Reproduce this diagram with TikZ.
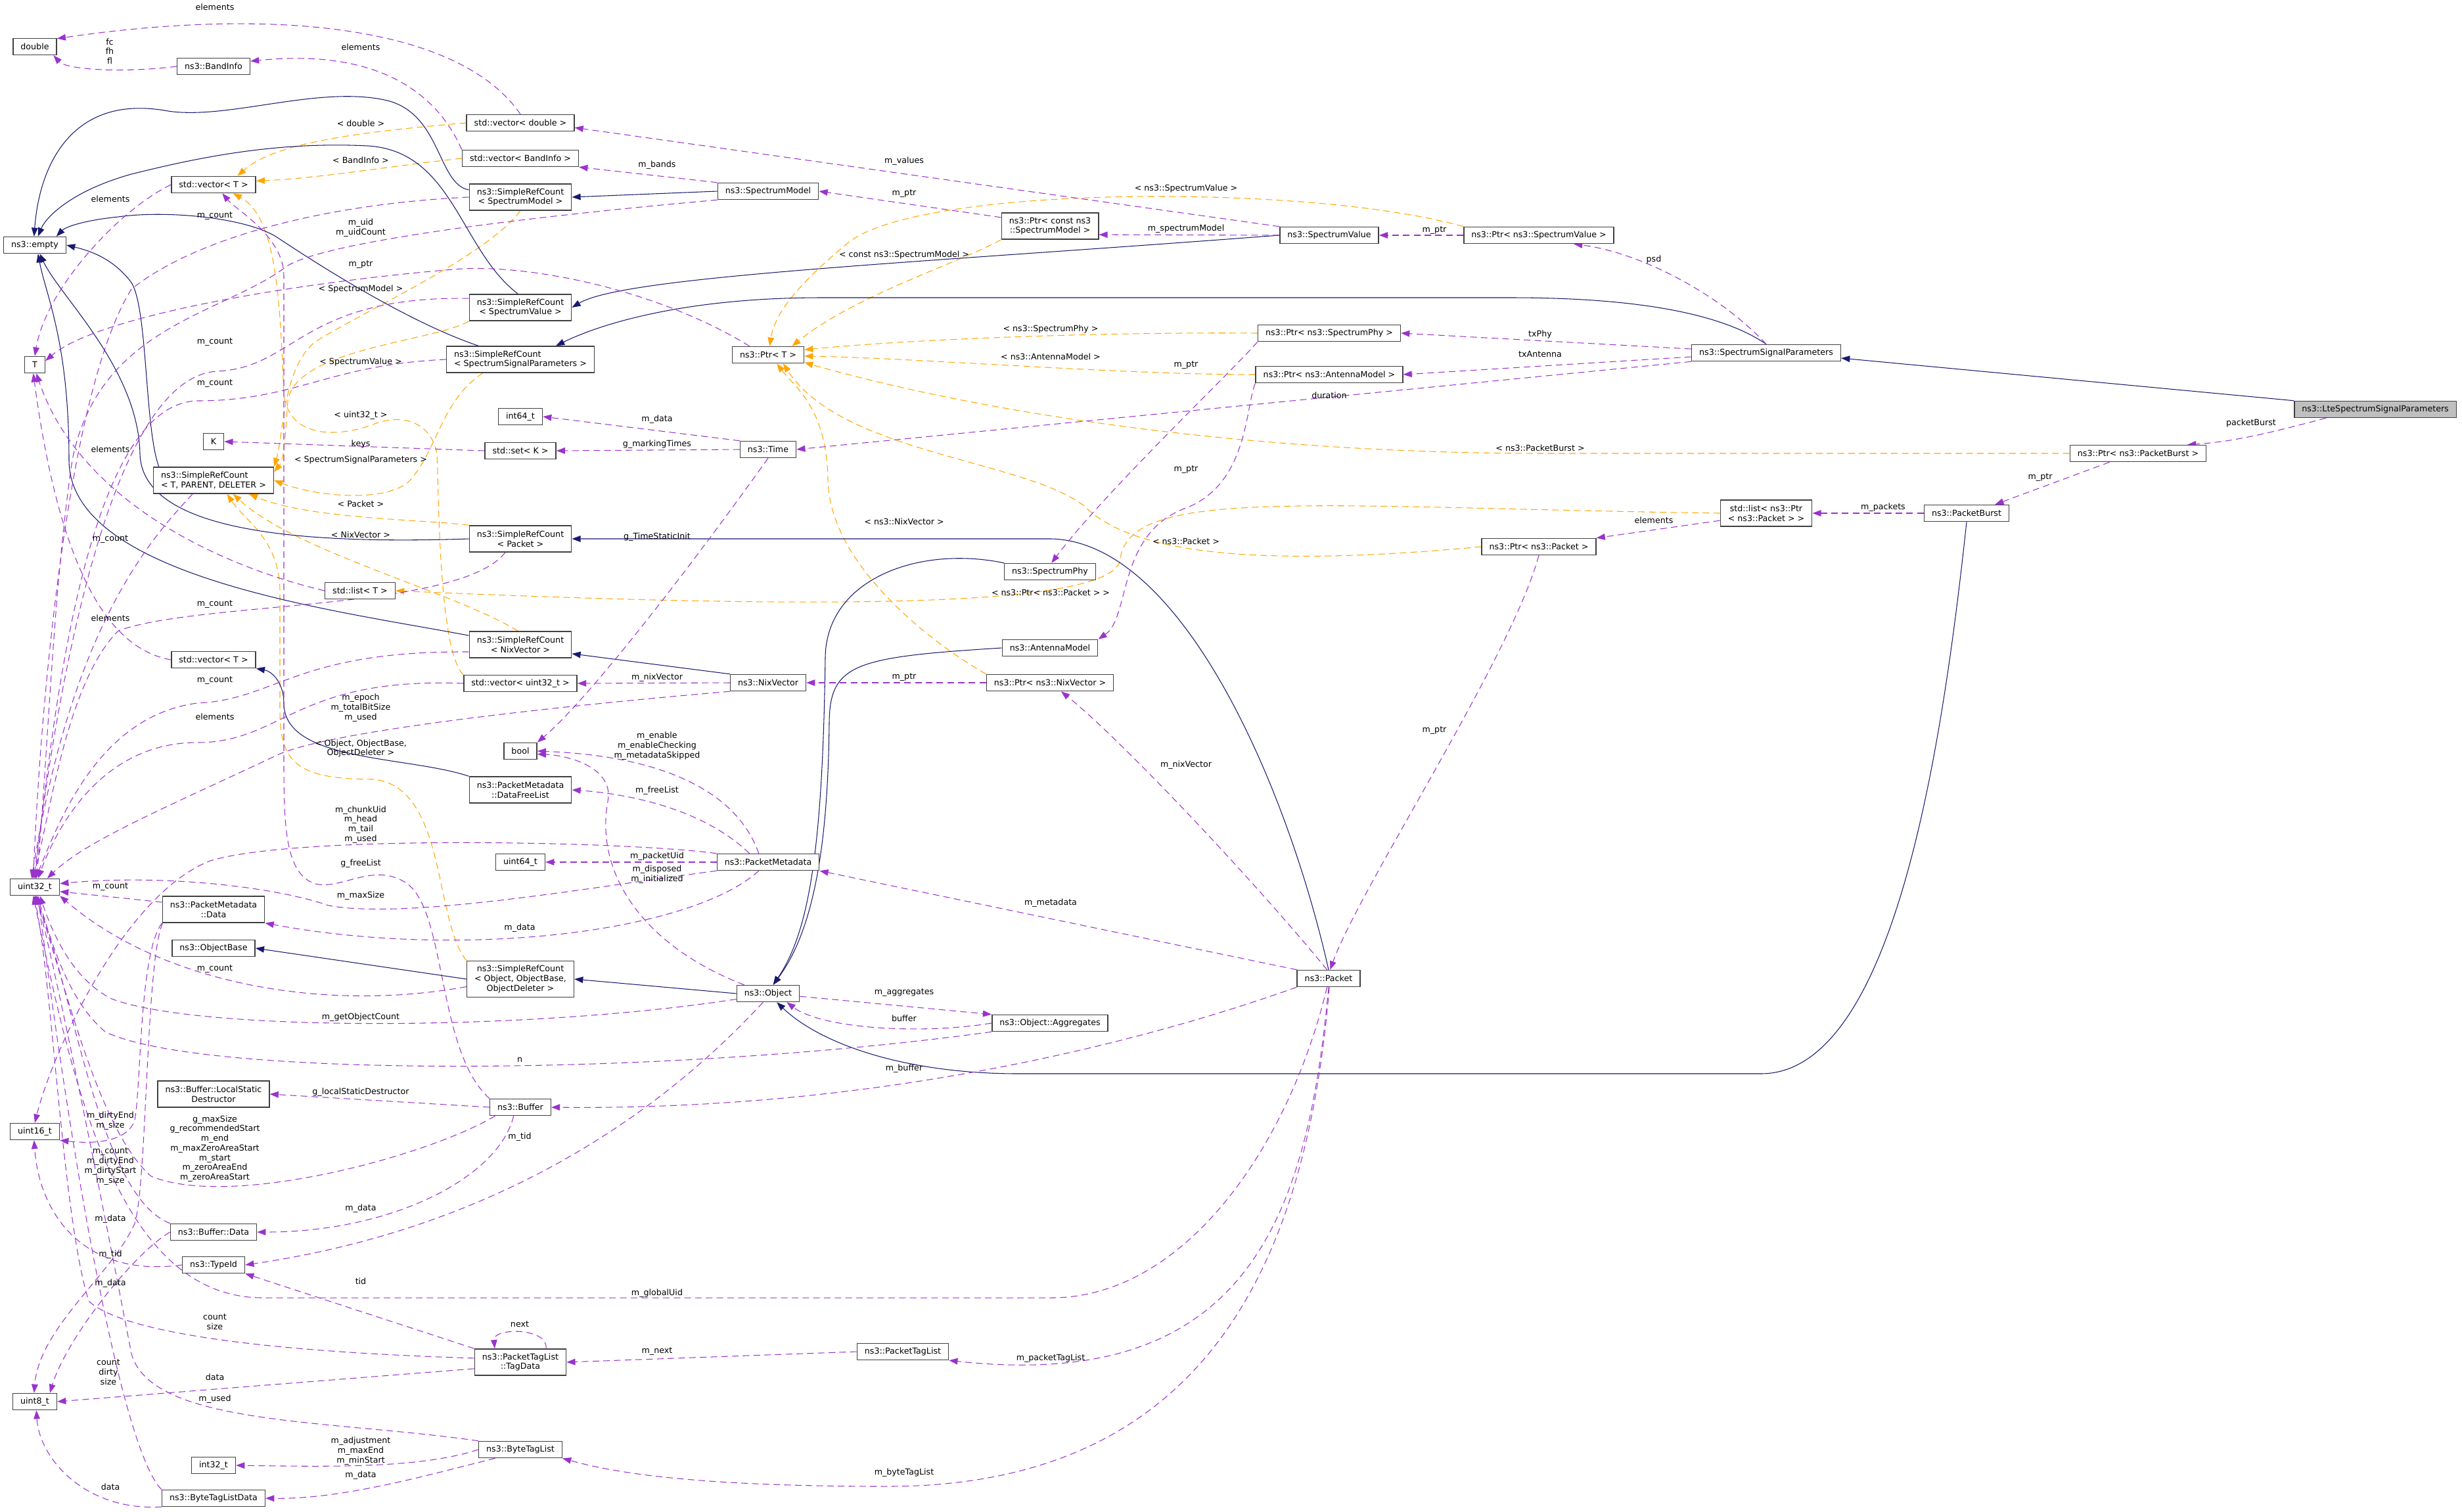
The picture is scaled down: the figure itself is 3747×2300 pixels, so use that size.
\documentclass[tikz,border=0pt]{standalone}
\usepackage{fontspec}
\setmainfont{DejaVu Sans}
\usetikzlibrary{arrows.meta,backgrounds}
\definecolor{navyedge}{HTML}{191970}
\definecolor{memberedge}{HTML}{9A32CD}
\definecolor{templedge}{HTML}{FFA500}
\definecolor{focusfill}{HTML}{BFBFBF}
\tikzset{
  cls/.style={draw=black!75, line width=0.85pt, fill=white, font=\fontsize{7.2}{8.4}\selectfont, inner xsep=0.23cm, inner ysep=0pt, minimum height=0.5cm},
  cls two/.style={cls, minimum height=0.8cm, align=center},
  cls three/.style={cls, minimum height=1.1cm, align=center},
  lbl/.style={font=\fontsize{7.2}{8.4}\selectfont, align=center, inner sep=0pt},
  inherit/.style={draw=navyedge, line width=0.6pt, -{Triangle[length=7.5pt,width=5.5pt]}},
  member/.style={draw=memberedge, line width=0.6pt, dash pattern=on 5.7pt off 3.6pt, -{Triangle[length=7.5pt,width=5.5pt]}},
  templ/.style={draw=templedge, line width=0.6pt, dash pattern=on 5.7pt off 3.6pt, -{Triangle[length=7.5pt,width=5.5pt]}}
}
\begin{document}
\begin{tikzpicture}[x=0.02cm, y=-0.02cm]
    \useasboundingbox (0,0) rectangle (3747,2300);

    % クラスのノード
    \node[cls] (double) at (53,71) {double};
    \node[cls] (bandInfo) at (325,101) {ns3::BandInfo};
    \node[cls] (vecDouble) at (792,187) {std::vector< double >};
    \node[cls] (vecBand) at (792,241) {std::vector< BandInfo >};
    \node[cls] (vecT) at (325,281) {std::vector< T >};
    \node[cls two] (srcModel) at (792,300) {ns3::SimpleRefCount\\< SpectrumModel >};
    \node[cls] (specModel) at (1169,291) {ns3::SpectrumModel};
    \node[cls] (empty) at (53,373) {ns3::empty};
    \node[cls two] (srcValue) at (792,468) {ns3::SimpleRefCount\\< SpectrumValue >};
    \node[cls] (T) at (53,555) {T};
    \node[cls two, align=left] (srcSig) at (792,547) {ns3::SimpleRefCount\\< SpectrumSignalParameters >};
    \node[cls] (ptrT) at (1169,540) {ns3::Ptr< T >};
    \node[cls two] (ptrModel) at (1598,344) {ns3::Ptr< const ns3\\::SpectrumModel >};
    \node[cls] (specValue) at (2023,358) {ns3::SpectrumValue};
    \node[cls] (ptrValue) at (2342,358) {ns3::Ptr< ns3::SpectrumValue >};
    \node[cls] (sigParams) at (2688,537) {ns3::SpectrumSignalParameters};
    \node[cls, fill=focusfill] (lte) at (3615,623) {ns3::LteSpectrumSignalParameters};
    \node[cls] (ptrPhy) at (2023,507) {ns3::Ptr< ns3::SpectrumPhy >};
    \node[cls] (ptrAnt) at (2023,570) {ns3::Ptr< ns3::AntennaModel >};
    \node[cls] (int64) at (792,634) {int64\_t};
    \node[cls] (K) at (325,672) {K};
    \node[cls] (setK) at (792,686) {std::set< K >};
    \node[cls] (time) at (1169,684) {ns3::Time};
    \node[cls two, align=left] (srcTPD) at (325,731) {ns3::SimpleRefCount\\< T, PARENT, DELETER >};
    \node[cls] (ptrBurst) at (3254,690) {ns3::Ptr< ns3::PacketBurst >};
    \node[cls two] (srcPacket) at (792,820) {ns3::SimpleRefCount\\< Packet >};
    \node[cls two] (listPtr) at (2688,781) {std::list< ns3::Ptr\\< ns3::Packet > >};
    \node[cls] (burst) at (2993,781) {ns3::PacketBurst};
    \node[cls] (ptrPacket) at (2342,832) {ns3::Ptr< ns3::Packet >};
    \node[cls] (specPhy) at (1598,870) {ns3::SpectrumPhy};
    \node[cls] (listT) at (548,899) {std::list< T >};
    \node[cls] (antenna) at (1598,986) {ns3::AntennaModel};
    \node[cls two] (srcNix) at (792,981) {ns3::SimpleRefCount\\< NixVector >};
    \node[cls] (vecT2) at (325,1004) {std::vector< T >};
    \node[cls] (vecUint) at (792,1040) {std::vector< uint32\_t >};
    \node[cls] (nix) at (1169,1039) {ns3::NixVector};
    \node[cls] (ptrNix) at (1598,1039) {ns3::Ptr< ns3::NixVector >};
    \node[cls] (bool) at (792,1143) {bool};
    \node[cls two] (freeList) at (792,1202) {ns3::PacketMetadata\\::DataFreeList};
    \node[cls] (uint64) at (792,1312) {uint64\_t};
    \node[cls] (uint32) at (53,1350) {uint32\_t};
    \node[cls] (metadata) at (1169,1312) {ns3::PacketMetadata};
    \node[cls two] (mdData) at (325,1384) {ns3::PacketMetadata\\::Data};
    \node[cls] (objBase) at (325,1443) {ns3::ObjectBase};
    \node[cls three] (srcObj) at (792,1490) {ns3::SimpleRefCount\\< Object, ObjectBase,\\ObjectDeleter >};
    \node[cls] (object) at (1169,1512) {ns3::Object};
    \node[cls] (aggr) at (1598,1557) {ns3::Object::Aggregates};
    \node[cls] (packet) at (2022,1489) {ns3::Packet};
    \node[cls two] (lsd) at (325,1665) {ns3::Buffer::LocalStatic\\Destructor};
    \node[cls] (buffer) at (792,1685) {ns3::Buffer};
    \node[cls] (uint16) at (53,1722) {uint16\_t};
    \node[cls] (bufData) at (325,1875) {ns3::Buffer::Data};
    \node[cls] (typeId) at (325,1925) {ns3::TypeId};
    \node[cls] (ptagList) at (1374,2057) {ns3::PacketTagList};
    \node[cls two] (tagData) at (792,2073) {ns3::PacketTagList\\::TagData};
    \node[cls] (uint8) at (53,2133) {uint8\_t};
    \node[cls] (int32) at (325,2230) {int32\_t};
    \node[cls] (btagList) at (792,2206) {ns3::ByteTagList};
    \node[cls] (btlData) at (325,2280) {ns3::ByteTagListData};

    \begin{scope}[on background layer]
    % テンプレート
    \draw[templ] (vecDouble.west) .. controls (560,200) and (420,215) .. (vecT.20);
    \draw[templ] (vecBand.west) .. controls (600,252) and (480,272) .. (vecT.5);
    \draw[templ] (vecUint.north west) .. controls (668,990) and (668,760) .. (665,690) .. controls (655,640) and (610,630) .. (570,645) .. controls (520,665) and (440,670) .. (432,600) .. controls (426,450) and (420,330) .. (vecT.-24);
    \draw[templ] (srcModel.south) .. controls (740,390) and (560,470) .. (480,520) .. controls (430,560) and (432,660) .. (srcTPD.north east);
    \draw[templ] (srcValue.south west) .. controls (660,520) and (450,530) .. (438,610) .. controls (434,670) and (432,700) .. (srcTPD.8);
    \draw[templ] (srcSig.-160) .. controls (670,610) and (665,690) .. (620,735) .. controls (580,765) and (480,755) .. (srcTPD.east);
    \draw[templ] (srcPacket.north west) .. controls (640,790) and (470,790) .. (srcTPD.-21);
    \draw[templ] (srcNix.100) .. controls (690,900) and (450,840) .. (srcTPD.-35);
    \draw[templ] (srcObj.north west) .. controls (660,1400) and (680,1200) .. (570,1186) .. controls (450,1186) and (426,1160) .. (426,1080) -- (426,900) .. controls (426,820) and (370,790) .. (srcTPD.-45);
    \draw[templ] (ptrValue.north west) .. controls (2000,280) and (1400,280) .. (1290,370) .. controls (1230,420) and (1180,470) .. (ptrT.80);
    \draw[templ] (ptrModel.south west) .. controls (1460,400) and (1300,450) .. (ptrT.20);
    \draw[templ] (ptrPhy.west) .. controls (1700,505) and (1400,515) .. (ptrT.8);
    \draw[templ] (ptrAnt.west) .. controls (1700,570) and (1400,545) .. (ptrT.-2);
    \draw[templ] (ptrBurst.west) -- (2350,690) .. controls (1900,690) and (1500,630) .. (ptrT.-12);
    \draw[templ] (ptrPacket.west) .. controls (1900,865) and (1720,840) .. (1650,770) .. controls (1560,700) and (1280,690) .. (ptrT.-30);
    \draw[templ] (ptrNix.north west) .. controls (1420,980) and (1262,860) .. (1260,730) .. controls (1258,620) and (1210,590) .. (ptrT.-45);
    \draw[templ] (listPtr.west) .. controls (2000,772) and (1720,740) .. (1705,850) .. controls (1700,930) and (1200,925) .. (listT.east);

    % 継承
    \draw[inherit] (srcModel.172) .. controls (665,280) and (672,170) .. (585,152) .. controls (480,130) and (340,185) .. (250,168) .. controls (110,145) and (60,250) .. (empty.95);
    \draw[inherit] (srcValue.100) .. controls (700,380) and (690,230) .. (560,222) .. controls (420,215) and (300,240) .. (200,265) .. controls (110,290) and (70,330) .. (empty.70);
    \draw[inherit] (srcSig.162) .. controls (620,490) and (480,400) .. (420,360) .. controls (370,330) and (250,320) .. (180,330) .. controls (130,335) and (100,345) .. (empty.22);
    \draw[inherit] (srcTPD.166) .. controls (220,650) and (225,470) .. (200,430) .. controls (170,390) and (130,380) .. (empty.east);
    \draw[inherit] (srcPacket.west) .. controls (420,830) and (215,800) .. (213,690) .. controls (210,560) and (90,450) .. (empty.-60);
    \draw[inherit] (srcNix.170) .. controls (520,930) and (105,880) .. (105,700) .. controls (105,520) and (70,450) .. (empty.-70);
    \draw[inherit] (specModel.west) -- (srcModel.east);
    \draw[inherit] (specValue.west) .. controls (1400,400) and (950,420) .. (srcValue.east);
    \draw[inherit] (sigParams.north) .. controls (2610,470) and (2460,453) .. (2300,453) -- (1250,453) .. controls (1050,453) and (920,490) .. (srcSig.21);
    \draw[inherit] (lte.north west) -- (sigParams.-4);
    \draw[inherit] (packet.north) .. controls (1960,1200) and (1800,825) .. (1600,820) -- (srcPacket.east);
    \draw[inherit] (nix.north west) -- (srcNix.-10);
    \draw[inherit] (freeList.north west) .. controls (620,1150) and (432,1160) .. (432,1070) .. controls (432,1040) and (415,1022) .. (vecT2.south east);
    \draw[inherit] (srcObj.west) -- (objBase.east);
    \draw[inherit] (object.west) -- (srcObj.east);
    \draw[inherit] (specPhy.north west) .. controls (1400,830) and (1258,880) .. (1256,1000) .. controls (1252,1300) and (1230,1420) .. (object.60);
    \draw[inherit] (antenna.west) .. controls (1300,1000) and (1263,1010) .. (1262,1100) .. controls (1260,1300) and (1235,1420) .. (object.60);
    \draw[inherit] (burst.south) .. controls (2955,1150) and (2880,1634) .. (2680,1634) -- (1550,1634) .. controls (1380,1634) and (1250,1590) .. (object.-45);

    % メンバ変数
    \draw[member] (vecDouble.north) .. controls (700,40) and (420,10) .. (double.20);
    \draw[member] (bandInfo.west) .. controls (180,112) and (100,105) .. (double.-25);
    \draw[member] (vecBand.north west) .. controls (660,130) and (560,75) .. (bandInfo.8);
    \draw[member] (vecT.west) .. controls (180,320) and (70,440) .. (T.north);
    \draw[member] (ptrT.155) .. controls (1000,440) and (800,400) .. (690,410) .. controls (450,430) and (150,480) .. (T.20);
    \draw[member] (listT.west) .. controls (330,860) and (120,760) .. (T.-80);
    \draw[member] (vecT2.west) .. controls (180,990) and (95,900) .. (T.-100);
    \draw[member] (setK.west) -- (K.east);
    \draw[member] (time.north west) -- (int64.east);
    \draw[member] (time.west) -- (setK.east);
    \draw[member] (time.south) .. controls (1060,850) and (900,1060) .. (bool.north east);
    \draw[member] (specModel.north west) -- (vecBand.south east);
    \draw[member] (specModel.south west) .. controls (800,330) and (470,370) .. (430,410) .. controls (330,480) and (150,500) .. (110,700) .. controls (80,900) and (70,1200) .. (uint32.80);
    \draw[member] (specValue.north west) -- (vecDouble.-5);
    \draw[member] (ptrModel.170) -- (specModel.east);
    \draw[member] (specValue.west) -- (ptrModel.-10);
    \draw[member] (ptrValue.west) -- (specValue.east);
    \draw[member] (sigParams.north) .. controls (2620,450) and (2500,385) .. (ptrValue.-14);
    \draw[member] (sigParams.177) -- (ptrPhy.east);
    \draw[member] (sigParams.183) -- (ptrAnt.east);
    \draw[member] (sigParams.south west) -- (time.east);
    \draw[member] (lte.-170) .. controls (3450,660) and (3400,672) .. (ptrBurst.10);
    \draw[member] (ptrBurst.-163) -- (burst.17);
    \draw[member] (burst.west) -- (listPtr.east);
    \draw[member] (listPtr.-171) -- (ptrPacket.north east);
    \draw[member] (ptrPhy.south west) .. controls (1880,560) and (1680,750) .. (specPhy.80);
    \draw[member] (ptrAnt.south west) .. controls (1895,620) and (1900,740) .. (1800,775) .. controls (1700,815) and (1720,940) .. (antenna.north east);
    \draw[member] (ptrPacket.south) .. controls (2300,1000) and (2070,1350) .. (packet.80);
    \draw[member] (nix.west) -- (vecUint.east);
    \draw[member] (nix.south west) .. controls (900,1070) and (500,1110) .. (420,1150) .. controls (250,1230) and (130,1280) .. (uint32.35);
    \draw[member] (ptrNix.west) -- (nix.east);
    \draw[member] (packet.100) .. controls (1900,1330) and (1700,1120) .. (ptrNix.-38);
    \draw[member] (packet.north west) -- (metadata.south east);
    \draw[member] (packet.south west) .. controls (1700,1600) and (1300,1690) .. (buffer.east);
    \draw[member] (packet.-100) .. controls (1960,1750) and (1800,1975) .. (1600,1975) -- (400,1975) .. controls (180,1975) and (110,1650) .. (uint32.-100);
    \draw[member] (packet.-90) .. controls (1990,1850) and (1900,2120) .. (ptagList.south east);
    \draw[member] (packet.-85) .. controls (1990,1900) and (1850,2262) .. (1350,2262) .. controls (1050,2262) and (930,2240) .. (btagList.south east);
    \draw[member] (ptagList.west) -- (tagData.east);
    \draw[member] (tagData.28) .. controls (835,2020) and (750,2020) .. (tagData.152);
    \draw[member] (tagData.north west) -- (typeId.south east);
    \draw[member] (tagData.175) .. controls (500,2060) and (200,2040) .. (135,1980) .. controls (95,1850) and (80,1500) .. (uint32.-95);
    \draw[member] (tagData.188) -- (uint8.east);
    \draw[member] (btagList.north west) .. controls (500,2160) and (230,2170) .. (200,2060) .. controls (150,1800) and (90,1500) .. (uint32.-80);
    \draw[member] (btagList.west) .. controls (640,2235) and (500,2232) .. (int32.east);
    \draw[member] (btagList.-161) .. controls (650,2245) and (520,2282) .. (btlData.east);
    \draw[member] (btlData.north west) .. controls (180,2200) and (100,1700) .. (uint32.-70);
    \draw[member] (btlData.south west) .. controls (130,2300) and (60,2220) .. (uint8.-80);
    \draw[member] (bufData.west) .. controls (200,1910) and (100,2040) .. (uint8.30);
    \draw[member] (mdData.-165) .. controls (222,1460) and (224,1800) .. (205,1862) .. controls (170,1940) and (60,2020) .. (uint8.95);
    \draw[member] (mdData.south west) .. controls (212,1450) and (215,1650) .. (205,1705) .. controls (195,1735) and (150,1742) .. (uint16.south east);
    \draw[member] (mdData.172) -- (uint32.-10);
    \draw[member] (metadata.north west) .. controls (950,1280) and (450,1270) .. (320,1310) .. controls (190,1360) and (80,1600) .. (uint16.north);
    \draw[member] (metadata.west) -- (uint64.east);
    \draw[member] (metadata.south west) .. controls (900,1350) and (620,1400) .. (500,1378) .. controls (420,1350) and (250,1330) .. (uint32.8);
    \draw[member] (metadata.155) .. controls (1080,1240) and (980,1210) .. (freeList.east);
    \draw[member] (metadata.137) .. controls (1120,1200) and (1000,1150) .. (bool.east);
    \draw[member] (metadata.-137) .. controls (1050,1420) and (700,1460) .. (mdData.south east);
    \draw[member] (object.160) .. controls (980,1440) and (905,1330) .. (925,1220) .. controls (935,1170) and (870,1150) .. (bool.-10);
    \draw[member] (object.-5) -- (aggr.north west);
    \draw[member] (aggr.west) .. controls (1400,1575) and (1250,1565) .. (object.-25);
    \draw[member] (aggr.south west) .. controls (1000,1640) and (300,1640) .. (160,1570) .. controls (100,1520) and (75,1420) .. (uint32.-75);
    \draw[member] (object.-170) .. controls (800,1570) and (300,1570) .. (170,1520) .. controls (110,1490) and (80,1420) .. (uint32.-60);
    \draw[member] (srcObj.-172) .. controls (500,1540) and (250,1500) .. (uint32.south east);
    \draw[member] (object.-120) .. controls (1000,1700) and (750,1870) .. (typeId.east);
    \draw[member] (buffer.west) -- (lsd.east);
    \draw[member] (buffer.-128) .. controls (760,1790) and (600,1875) .. (bufData.east);
    \draw[member] (buffer.-161) .. controls (650,1760) and (350,1840) .. (230,1790) .. controls (150,1720) and (100,1500) .. (uint32.-85);
    \draw[member] (buffer.north west) .. controls (665,1600) and (680,1390) .. (620,1345) .. controls (570,1310) and (520,1355) .. (480,1345) .. controls (432,1330) and (432,1250) .. (432,1150) -- (432,420) .. controls (432,360) and (360,320) .. (vecT.-45);
    \draw[member] (bufData.north west) .. controls (150,1820) and (110,1500) .. (uint32.-90);
    \draw[member] (typeId.west) .. controls (130,1945) and (60,1850) .. (uint16.-95);
    \draw[member] (vecUint.west) .. controls (450,1030) and (430,1130) .. (300,1130) .. controls (160,1130) and (90,1250) .. (uint32.70);
    \draw[member] (srcModel.west) .. controls (500,310) and (300,360) .. (200,440) .. controls (100,600) and (60,1100) .. (uint32.100);
    \draw[member] (srcValue.170) .. controls (460,450) and (450,560) .. (330,565) .. controls (160,575) and (80,1100) .. (uint32.95);
    \draw[member] (srcSig.west) .. controls (500,555) and (450,610) .. (300,610) .. controls (130,615) and (80,1100) .. (uint32.90);
    \draw[member] (srcTPD.-147) .. controls (230,820) and (110,950) .. (uint32.110);
    \draw[member] (srcPacket.-138) .. controls (700,930) and (300,915) .. (180,960) .. controls (100,1040) and (75,1250) .. (uint32.105);
    \draw[member] (srcNix.-172) .. controls (450,990) and (420,1065) .. (300,1070) .. controls (150,1090) and (90,1250) .. (uint32.85);
    \end{scope}

    % ラベル
    \node[lbl] (elements1_label) at (327,11) {elements};
    \node[lbl] (fcfhfl_label) at (167,78) {fc\\fh\\fl};
    \node[lbl] (elements2_label) at (549,72) {elements};
    \node[lbl] (tdouble_label) at (549,188) {< double >};
    \node[lbl] (tband_label) at (549,244) {< BandInfo >};
    \node[lbl] (elements3_label) at (168,303) {elements};
    \node[lbl] (count1_label) at (327,329) {m\_count};
    \node[lbl] (uid_label) at (549,347) {m\_uid\\m\_uidCount};
    \node[lbl] (ptr1_label) at (549,403) {m\_ptr};
    \node[lbl] (tmodel_label) at (549,440) {< SpectrumModel >};
    \node[lbl] (count2_label) at (327,521) {m\_count};
    \node[lbl] (tvalue_label) at (549,551) {< SpectrumValue >};
    \node[lbl] (count3_label) at (327,584) {m\_count};
    \node[lbl] (tuint_label) at (549,632) {< uint32\_t >};
    \node[lbl] (keys_label) at (549,676) {keys};
    \node[lbl] (elements4_label) at (168,684) {elements};
    \node[lbl] (tsig_label) at (549,700) {< SpectrumSignalParameters >};
    \node[lbl] (tpacket_label) at (549,767) {< Packet >};
    \node[lbl] (tnix_label) at (549,814) {< NixVector >};
    \node[lbl] (count4_label) at (168,821) {m\_count};
    \node[lbl] (count5_label) at (327,920) {m\_count};
    \node[lbl] (elements5_label) at (168,941) {elements};
    \node[lbl] (count6_label) at (327,1036) {m\_count};
    \node[lbl] (epoch_label) at (549,1077) {m\_epoch\\m\_totalBitSize\\m\_used};
    \node[lbl] (elements6_label) at (327,1091) {elements};
    \node[lbl] (tobject_label) at (549,1139) {< Object, ObjectBase,\\ObjectDeleter >};
    \node[lbl] (chunk_label) at (549,1255) {m\_chunkUid\\m\_head\\m\_tail\\m\_used};
    \node[lbl] (gfree_label) at (549,1314) {g\_freeList};
    \node[lbl] (count7_label) at (168,1350) {m\_count};
    \node[lbl] (maxsize_label) at (549,1363) {m\_maxSize};
    \node[lbl] (data1_label) at (791,1412) {m\_data};
    \node[lbl] (count8_label) at (327,1475) {m\_count};
    \node[lbl] (getcount_label) at (549,1548) {m\_getObjectCount};
    \node[lbl] (n_label) at (791,1613) {n};
    \node[lbl] (lsd_label) at (549,1662) {g\_localStaticDestructor};
    \node[lbl] (dirty1_label) at (168,1706) {m\_dirtyEnd\\m\_size};
    \node[lbl] (gmax_label) at (327,1748) {g\_maxSize\\g\_recommendedStart\\m\_end\\m\_maxZeroAreaStart\\m\_start\\m\_zeroAreaEnd\\m\_zeroAreaStart};
    \node[lbl] (tid1_label) at (791,1730) {m\_tid};
    \node[lbl] (dirty2_label) at (168,1775) {m\_count\\m\_dirtyEnd\\m\_dirtyStart\\m\_size};
    \node[lbl] (data2_label) at (549,1839) {m\_data};
    \node[lbl] (data3_label) at (168,1855) {m\_data};
    \node[lbl] (tid2_label) at (168,1909) {m\_tid};
    \node[lbl] (tid3_label) at (549,1950) {tid};
    \node[lbl] (data4_label) at (168,1953) {m\_data};
    \node[lbl] (countsize_label) at (327,2012) {count\\size};
    \node[lbl] (next_label) at (791,2015) {next};
    \node[lbl] (countdirty_label) at (165,2088) {count\\dirty\\size};
    \node[lbl] (data5_label) at (327,2096) {data};
    \node[lbl] (used_label) at (327,2129) {m\_used};
    \node[lbl] (adjust_label) at (549,2208) {m\_adjustment\\m\_maxEnd\\m\_minStart};
    \node[lbl] (data6_label) at (549,2245) {m\_data};
    \node[lbl] (data7_label) at (168,2263) {data};
    \node[lbl] (bands_label) at (1000,251) {m\_bands};
    \node[lbl] (data8_label) at (1000,638) {m\_data};
    \node[lbl] (marking_label) at (1000,676) {g\_markingTimes};
    \node[lbl] (timeinit_label) at (1000,817) {g\_TimeStaticInit};
    \node[lbl] (nixvec1_label) at (1000,1031) {m\_nixVector};
    \node[lbl] (enable_label) at (1000,1135) {m\_enable\\m\_enableChecking\\m\_metadataSkipped};
    \node[lbl] (freelist_label) at (1000,1203) {m\_freeList};
    \node[lbl] (packetuid_label) at (1000,1303) {m\_packetUid};
    \node[lbl] (disposed_label) at (1000,1331) {m\_disposed\\m\_initialized};
    \node[lbl] (globaluid_label) at (1000,1968) {m\_globalUid};
    \node[lbl] (next2_label) at (1000,2057) {m\_next};
    \node[lbl] (values_label) at (1376,245) {m\_values};
    \node[lbl] (ptr2_label) at (1376,295) {m\_ptr};
    \node[lbl] (tconst_label) at (1376,388) {< const ns3::SpectrumModel >};
    \node[lbl] (tnix2_label) at (1376,794) {< ns3::NixVector >};
    \node[lbl] (ptr3_label) at (1376,1031) {m\_ptr};
    \node[lbl] (aggregates_label) at (1376,1511) {m\_aggregates};
    \node[lbl] (buffer_label) at (1376,1550) {buffer};
    \node[lbl] (mbuffer_label) at (1376,1626) {m\_buffer};
    \node[lbl] (bytetag_label) at (1376,2241) {m\_byteTagList};
    \node[lbl] (tphy_label) at (1599,501) {< ns3::SpectrumPhy >};
    \node[lbl] (tant_label) at (1599,543) {< ns3::AntennaModel >};
    \node[lbl] (tptrpacket_label) at (1599,902) {< ns3::Ptr< ns3::Packet > >};
    \node[lbl] (metadata_label) at (1599,1374) {m\_metadata};
    \node[lbl] (packettag_label) at (1599,2067) {m\_packetTagList};
    \node[lbl] (tvalue2_label) at (1805,287) {< ns3::SpectrumValue >};
    \node[lbl] (specmodel_label) at (1805,348) {m\_spectrumModel};
    \node[lbl] (ptr4_label) at (1805,556) {m\_ptr};
    \node[lbl] (ptr5_label) at (1805,715) {m\_ptr};
    \node[lbl] (tpacket2_label) at (1805,824) {< ns3::Packet >};
    \node[lbl] (nixvec2_label) at (1805,1164) {m\_nixVector};
    \node[lbl] (duration_label) at (2023,602) {duration};
    \node[lbl] (ptr6_label) at (2183,351) {m\_ptr};
    \node[lbl] (ptr7_label) at (2183,1112) {m\_ptr};
    \node[lbl] (txphy_label) at (2344,509) {txPhy};
    \node[lbl] (txant_label) at (2344,539) {txAntenna};
    \node[lbl] (tburst_label) at (2344,682) {< ns3::PacketBurst >};
    \node[lbl] (psd_label) at (2517,395) {psd};
    \node[lbl] (elements7_label) at (2517,792) {elements};
    \node[lbl] (packets_label) at (2866,772) {m\_packets};
    \node[lbl] (ptr8_label) at (3105,727) {m\_ptr};
    \node[lbl] (burst_label) at (3426,644) {packetBurst};

  \end{tikzpicture}
\end{document}
